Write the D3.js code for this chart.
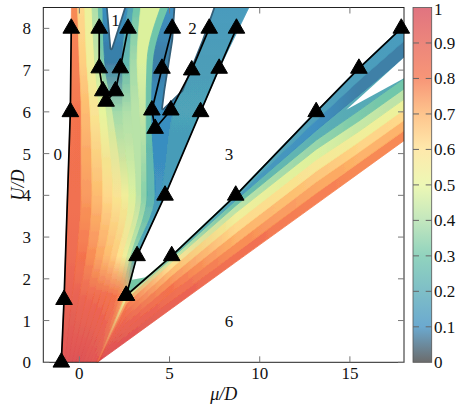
<!DOCTYPE html>
<html>
<head>
<meta charset="utf-8">
<title>Phase diagram</title>
<script src="https://d3js.org/d3.v7.min.js"></script>
<style>
body { margin: 0; background: #fff; }
svg text { font-family: "Liberation Serif", "DejaVu Serif", serif; fill: #111; }
</style>
</head>
<body>
<script>
// ---- data ----
var xTicks = [0, 5, 10, 15];
var yTicks = [0, 1, 2, 3, 4, 5, 6, 7, 8];
var cbTicks = [0, 0.1, 0.2, 0.3, 0.4, 0.5, 0.6, 0.7, 0.8, 0.9, 1];

var cmapStops  = [0, 0.1, 0.2, 0.3, 0.4, 0.5, 0.6, 0.7, 0.8, 0.9, 1];
var cmapColors = ["#333333", "#3288bd", "#4ca5b1", "#66c2a5", "#abdda4", "#e6f598",
                  "#fee08b", "#fdae61", "#f46d43", "#e55748", "#d53e4f"];

// upper fan: strip borders given as mu at each U row
var fanRows = [0, 1.6, 2.55, 4, 6, 7.2, 8.5];
var fanRays = [
  [-1.0, -0.84, -0.77, -0.66, -0.5, -0.47, -0.44],
  [-0.8, -0.4, -0.15, 0.1, 0.1, 0.0, -0.1],
  [-0.6, 0.0, 0.4, 0.7, 0.6, 0.4, 0.3],
  [-0.4, 0.4, 0.9, 1.3, 1.1, 0.85, 0.7],
  [-0.2, 0.8, 1.35, 1.85, 1.5, 1.2, 1.05],
  [0.0, 1.15, 1.75, 2.35, 1.85, 1.4, 1.3],
  [0.2, 1.5, 2.1, 2.75, 2.4, 2.4, 2.7],
  [0.4, 1.8, 2.4, 3.15, 2.9, 2.8, 3.0],
  [0.6, 2.1, 2.65, 3.45, 3.35, 3.2, 3.4],
  [0.75, 2.3, 2.85, 3.75, 3.7, 3.75, 4.5],
  [0.9, 2.45, 3.02, 4.2, 4.0, 4.1, 4.95],
  [0.95, 2.52, 3.1, 4.45, 5.2, 6.0, 7.0],
  [1.0, 2.6, 3.2, 4.75, 6.72, 7.94, 9.4]
];
var fanValues = [
  [0.95, 0.88, 0.85, 0.82, 0.8, 0.78, 0.77],
  [0.96, 0.88, 0.8, 0.74, 0.68, 0.64, 0.62],
  [0.96, 0.86, 0.76, 0.68, 0.58, 0.54, 0.52],
  [0.96, 0.85, 0.72, 0.62, 0.5, 0.44, 0.4],
  [0.96, 0.84, 0.68, 0.58, 0.45, 0.32, 0.28],
  [0.96, 0.83, 0.65, 0.54, 0.38, 0.08, 0.1],
  [0.95, 0.82, 0.6, 0.48, 0.4, 0.25, 0.18],
  [0.95, 0.8, 0.54, 0.42, 0.42, 0.38, 0.3],
  [0.94, 0.78, 0.46, 0.34, 0.44, 0.48, 0.48],
  [0.94, 0.74, 0.36, 0.24, 0.28, 0.3, 0.3],
  [0.93, 0.7, 0.24, 0.12, 0.1, 0.08, 0.1],
  [0.92, 0.68, 0.2, 0.14, 0.17, 0.16, 0.14]
];

// lower band: strip borders given as U at each mu column
var bandCols = [1, 2.6, 5.12, 8.67, 13.13, 15.5, 18];
var bandRays = [
  [0, 0.50, 1.29, 2.40, 3.79, 4.53, 5.31],
  [0, 0.65, 1.48, 2.62, 4.05, 4.78, 5.55],
  [0, 0.80, 1.68, 2.85, 4.32, 5.03, 5.80],
  [0, 0.95, 1.88, 3.10, 4.58, 5.28, 6.05],
  [0, 1.10, 2.08, 3.35, 4.85, 5.53, 6.30],
  [0, 1.25, 2.26, 3.58, 5.10, 5.78, 6.55],
  [0, 1.40, 2.40, 3.75, 5.32, 6.03, 6.80],
  [0, 1.52, 2.49, 3.88, 5.55, 6.40, 7.30],
  [0, 1.57, 2.53, 3.95, 5.80, 6.75, 7.70],
  [0, 1.62, 2.57, 4.02, 6.02, 7.06, 8.08]
];
var bandValues = [
  [0.97, 0.93, 0.88, 0.82, 0.78, 0.77, 0.77],
  [0.96, 0.9, 0.84, 0.76, 0.72, 0.7, 0.7],
  [0.96, 0.88, 0.8, 0.7, 0.66, 0.63, 0.62],
  [0.95, 0.86, 0.75, 0.62, 0.57, 0.54, 0.52],
  [0.94, 0.83, 0.68, 0.54, 0.48, 0.44, 0.42],
  [0.93, 0.8, 0.6, 0.42, 0.36, 0.32, 0.3],
  [0.9, 0.72, 0.45, 0.28, 0.22, 0.2, 0.2],
  [0.85, 0.55, 0.28, 0.15, 0.1, 0.08, 0.08],
  [0.85, 0.5, 0.3, 0.2, 0.16, 0.15, 0.14]
];

// empty pockets inside the coloured area
var notch1 = [[1.53, 8.7], [1.77, 7.52], [2.64, 8.7]];
var notch2 = [[5.35, 8.7], [5.2, 7.72], [4.76, 6.52], [4.63, 6.08], [5.68, 6.52], [6.8, 7.72], [7.6, 8.7]];
var gapWedge = [[14.8, 6.05], [18.5, 7.5], [18.5, 6.92]];
var tipFringe = [[2.6, 1.6], [3.05, 2.3], [2.92, 1.98], [3.6, 2.03], [4.0, 2.13]];
var tipFringeValue = 0.32;
var notchEdgeValue = 0.05;

// phase boundaries (black lines with triangles)
var boundaries = [
  [[-1, 0], [-0.85, 1.5], [-0.5, 6], [-0.45, 8]],
  [[1.1, 8], [1.1, 7.05], [1.3, 6.5], [1.48, 6.25], [2.0, 6.5], [2.27, 7.05], [2.7, 8]],
  [[5.15, 8], [4.58, 7.04], [4.02, 6.04], [4.2, 5.6], [5.07, 6.04], [6.23, 7.0], [7.2, 8]],
  [[2.6, 1.6], [3.2, 2.55], [4.75, 4], [6.72, 6], [7.75, 7.04], [8.71, 8]],
  [[2.6, 1.6], [5.12, 2.55], [8.67, 4], [13.13, 6], [15.5, 7.04], [17.85, 8]]
];

var regionLabels = [
  {t: "0", mu: -1.2, u: 5.0},
  {t: "1", mu: 2.0, u: 8.2},
  {t: "2", mu: 6.27, u: 8.0},
  {t: "3", mu: 8.3, u: 5.0},
  {t: "6", mu: 8.3, u: 1.0}
];

// ---- drawing ----
var width = 460, height = 406;
var x = d3.scaleLinear().domain([-2, 18]).range([43.3, 404]);
var y = d3.scaleLinear().domain([0, 8.5]).range([362.3, 7.5]);
var color = d3.scaleLinear().domain(cmapStops).range(cmapColors).interpolate(d3.interpolateRgb);

var svg = d3.select("body").append("svg")
    .attr("width", width)
    .attr("height", height);
var defs = svg.append("defs");

defs.append("clipPath").attr("id", "plotclip")
  .append("rect")
    .attr("x", x(-2)).attr("y", y(8.5))
    .attr("width", x(18) - x(-2)).attr("height", y(0) - y(8.5));

var plot = svg.append("g").attr("clip-path", "url(#plotclip)");

// ray i as a path string; outer rays straight, inner rays smooth
function rayPath(i, reverse) {
    var pts = fanRows.map(function(u, k) { return [x(fanRays[i][k]), y(u)]; });
    if (reverse) pts.reverse();
    var curve = (i === 0 || i === fanRays.length - 1) ? d3.curveLinear : d3.curveMonotoneY;
    return d3.line().curve(curve)(pts);
}

// upper fan strips, coloured along U
fanValues.forEach(function(vals, i) {
    var g = defs.append("linearGradient").attr("id", "fan" + i)
        .attr("gradientUnits", "userSpaceOnUse")
        .attr("x1", 0).attr("x2", 0).attr("y1", y(0)).attr("y2", y(8.5));
    vals.forEach(function(v, k) {
        g.append("stop").attr("offset", fanRows[k] / 8.5).attr("stop-color", color(v));
    });
    var d = rayPath(i, false) + "L" + rayPath(i + 1, true).slice(1) + "Z";
    plot.append("path")
        .attr("d", d)
        .attr("fill", "url(#fan" + i + ")")
        .attr("stroke", "url(#fan" + i + ")")
        .attr("stroke-width", 0.8)
        .attr("opacity", 0.93);
});

// lower band strips, coloured along mu
bandValues.forEach(function(vals, j) {
    var g = defs.append("linearGradient").attr("id", "band" + j)
        .attr("gradientUnits", "userSpaceOnUse")
        .attr("x1", x(1)).attr("x2", x(18)).attr("y1", 0).attr("y2", 0);
    vals.forEach(function(v, k) {
        g.append("stop").attr("offset", (bandCols[k] - 1) / 17).attr("stop-color", color(v));
    });
    var pts = [];
    bandCols.forEach(function(m, k) { pts.push([x(m), y(bandRays[j][k])]); });
    for (var k = bandCols.length - 1; k >= 0; k--) pts.push([x(bandCols[k]), y(bandRays[j + 1][k])]);
    plot.append("path")
        .attr("d", "M" + pts.join("L") + "Z")
        .attr("fill", "url(#band" + j + ")")
        .attr("stroke", "url(#band" + j + ")")
        .attr("stroke-width", 0.8)
        .attr("opacity", 0.93);
});

var poly = d3.line().x(function(d) { return x(d[0]); }).y(function(d) { return y(d[1]); });

plot.append("path").attr("d", poly(tipFringe) + "Z").attr("fill", color(tipFringeValue));
// dark rim round the two notches, then the empty pockets
[notch1, notch2].forEach(function(p) {
    plot.append("path").attr("d", poly(p) + "Z")
        .attr("fill", "none").attr("stroke", color(notchEdgeValue))
        .attr("stroke-width", 3.5).attr("stroke-linejoin", "round");
});
[notch1, notch2, gapWedge].forEach(function(p) {
    plot.append("path").attr("d", poly(p) + "Z").attr("fill", "#fff");
});

// frame and ticks
var frame = svg.append("g");
frame.append("rect")
    .attr("x", x(-2)).attr("y", y(8.5))
    .attr("width", x(18) - x(-2)).attr("height", y(0) - y(8.5))
    .attr("fill", "none").attr("stroke", "#222").attr("stroke-width", 1);

xTicks.forEach(function(t) {
    frame.append("line").attr("x1", x(t)).attr("x2", x(t)).attr("y1", y(0)).attr("y2", y(0) - 6)
        .attr("stroke", "#777");
    frame.append("line").attr("x1", x(t)).attr("x2", x(t)).attr("y1", y(8.5)).attr("y2", y(8.5) + 6)
        .attr("stroke", "#777");
    frame.append("text").attr("x", x(t)).attr("y", 378.5)
        .attr("text-anchor", "middle").attr("font-size", 17).text(t);
});
yTicks.forEach(function(t) {
    frame.append("line").attr("x1", x(-2)).attr("x2", x(-2) + 6).attr("y1", y(t)).attr("y2", y(t))
        .attr("stroke", "#777");
    frame.append("line").attr("x1", x(18)).attr("x2", x(18) - 6).attr("y1", y(t)).attr("y2", y(t))
        .attr("stroke", "#777");
    frame.append("text").attr("x", 31).attr("y", y(t)).attr("dy", "0.35em")
        .attr("text-anchor", "end").attr("font-size", 17).text(t);
});

// phase boundaries
var marks = svg.append("g");
boundaries.forEach(function(b) {
    marks.append("path").attr("d", poly(b))
        .attr("fill", "none").attr("stroke", "#000").attr("stroke-width", 1.7)
        .attr("stroke-linejoin", "round");
});
var tri = d3.symbol().type(d3.symbolTriangle).size(120);
boundaries.forEach(function(b) {
    b.forEach(function(p) {
        marks.append("path").attr("d", tri())
            .attr("transform", "translate(" + x(p[0]) + "," + y(p[1]) + ")")
            .attr("fill", "#000").attr("stroke", "#000").attr("stroke-width", 1);
    });
});

regionLabels.forEach(function(r) {
    svg.append("text").attr("x", x(r.mu)).attr("y", y(r.u)).attr("dy", "0.35em")
        .attr("text-anchor", "middle").attr("font-size", 17).text(r.t);
});

// axis labels
svg.append("text").attr("x", (x(-2) + x(18)) / 2).attr("y", 400)
    .attr("text-anchor", "middle").attr("font-size", 18).attr("font-style", "italic")
    .text("\u03bc/D");
svg.append("text").attr("transform", "translate(24," + (y(0) + y(8.5)) / 2 + ") rotate(-90)")
    .attr("text-anchor", "middle").attr("font-size", 18).attr("font-style", "italic")
    .text("U/D");

// colorbar
var cbX0 = 413, cbX1 = 431.7;
var cb = d3.scaleLinear().domain([0, 1]).range([y(0), y(8.5)]);
var cg = defs.append("linearGradient").attr("id", "cbgrad")
    .attr("x1", 0).attr("x2", 0).attr("y1", 1).attr("y2", 0);
cmapStops.forEach(function(s, i) {
    cg.append("stop").attr("offset", s).attr("stop-color", cmapColors[i]);
});
svg.append("rect").attr("x", cbX0).attr("y", cb(1))
    .attr("width", cbX1 - cbX0).attr("height", cb(0) - cb(1))
    .attr("fill", "url(#cbgrad)").attr("fill-opacity", 0.72)
    .attr("stroke", "#555").attr("stroke-width", 0.8);
cbTicks.forEach(function(t) {
    if (t > 0 && t < 1) {
        svg.append("line").attr("x1", cbX0).attr("x2", cbX0 + 6).attr("y1", cb(t)).attr("y2", cb(t))
            .attr("stroke", "#666");
        svg.append("line").attr("x1", cbX1).attr("x2", cbX1 - 6).attr("y1", cb(t)).attr("y2", cb(t))
            .attr("stroke", "#666");
    }
    svg.append("text").attr("x", 434).attr("y", Math.max(cb(t), 9)).attr("dy", "0.35em")
        .attr("font-size", 17).text(t);
});
</script>
</body>
</html>
